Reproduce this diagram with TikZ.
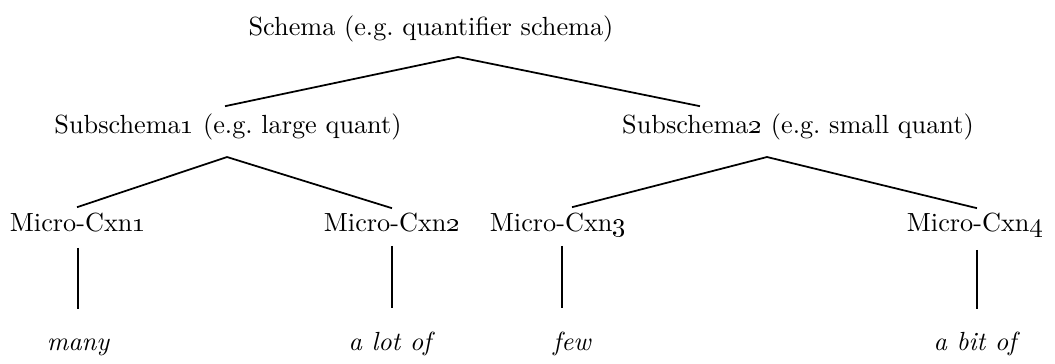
\documentclass[tikz,border=0pt]{standalone}
\usetikzlibrary{calc,positioning}
\def\osn#1{\oldstylenums{#1}}
\frenchspacing

\begin{document}
\begin{tikzpicture}[
    x=0.4pt, y=-0.4pt,
    font=\fontsize{10.5}{12}\selectfont,
    schemaKey/.style={inner sep=0pt, text height=1.6ex, text depth=0.5ex},
    cxnKey/.style={inner sep=0pt, text height=1.6ex, text depth=0.5ex},
    leafKey/.style={inner sep=0pt, text height=1.6ex, text depth=0.5ex, font=\fontsize{10.5}{12}\selectfont\itshape},
    branch/.style={line width=0.7pt},
  ]
  \useasboundingbox (0,0) rectangle (1055,363);
  % schema levels
  \node[schemaKey] (schema) at (431,30) {Schema (e.g. quantifier schema)};
  \node[schemaKey] (subA) at (228,128) {Subschema\osn{1} (e.g. large quant)};
  \node[schemaKey] (subB) at (798,128) {Subschema\osn{2} (e.g. small quant)};
  % micro constructions
  \node[cxnKey] (cxnA) at (78,226) {Micro-Cxn\osn{1}};
  \node[cxnKey] (cxnB) at (392,226) {Micro-Cxn\osn{2}};
  \node[cxnKey] (cxnC) at (558,226) {Micro-Cxn\osn{3}};
  \node[cxnKey] (cxnD) at (975,226) {Micro-Cxn\osn{4}};
  % instances
  \node[leafKey] (leafA) at (78,345) {many};
  \node[leafKey] (leafB) at (390,345) {a lot of};
  \node[leafKey] (leafC) at (572,345) {few};
  \node[leafKey] (leafD) at (975,345) {a bit of};
  % forks
  \coordinate (forkS) at (458,57);
  \coordinate (forkA) at (227,157);
  \coordinate (forkB) at (767,157);
  % lines
  \draw[branch] ($(subA.north)+(-3,-10)$) -- (forkS) -- ($(subB.north)+(-98,-10)$);
  \draw[branch] ($(cxnA.north)+(-1,-7)$) -- (forkA) -- ($(cxnB.north)+(0,-6)$);
  \draw[branch] ($(cxnC.north)+(14,-7)$) -- (forkB) -- ($(cxnD.north)+(2,-6)$);
  \draw[branch] ($(cxnA.south)+(0,10)$) -- ($(leafA.north)+(0,-24)$);
  \draw[branch] ($(cxnB.south)+(0,8)$) -- ($(cxnB.south |- leafB.north)+(0,-25)$);
  \draw[branch] ($(cxnC.south)+(4,8)$) -- ($(cxnC.south |- leafC.north)+(4,-25)$);
  \draw[branch] ($(cxnD.south)+(2,12)$) -- ($(cxnD.south |- leafD.north)+(2,-24)$);
\end{tikzpicture}
\end{document}
